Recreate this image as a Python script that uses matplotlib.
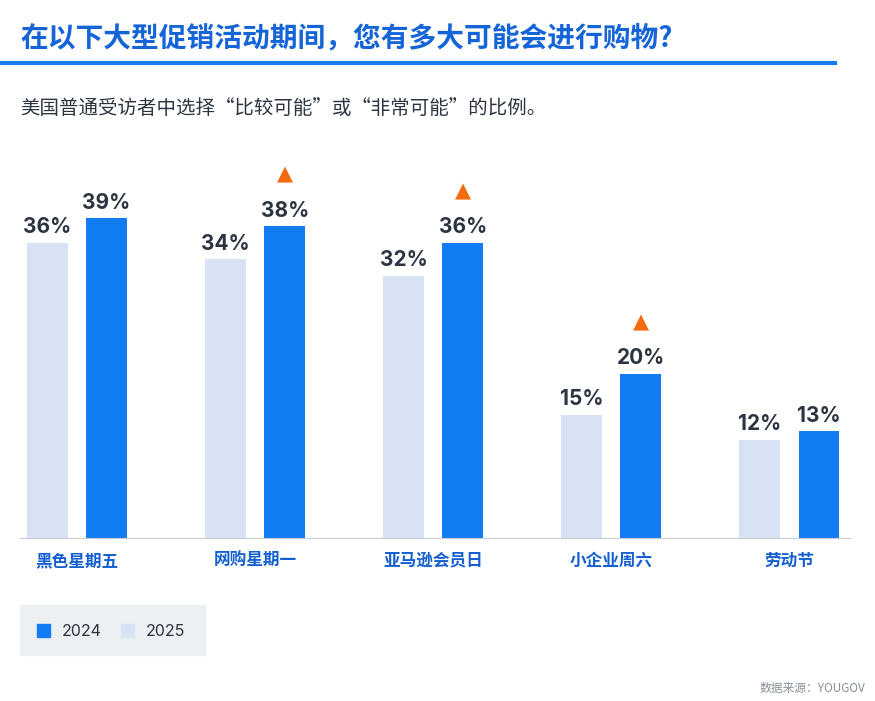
import matplotlib.pyplot as plt
import numpy as np
from matplotlib.patches import Rectangle

plt.rcParams['font.family'] = ['Noto Sans CJK SC', 'DejaVu Sans']

categories = ['黑色星期五', '网购星期一', '亚马逊会员日', '小企业周六', '劳动节']
v2025 = [36, 34, 32, 15, 12]
v2024 = [39, 38, 36, 20, 13]
rising = [False, True, True, True, False]

dark = '#127cf2'
light = '#d7e3f4'
orange = '#f26b0f'
text_c = '#2b3440'
num_font = ['Inter', 'DejaVu Sans']

fig = plt.figure(figsize=(8.75, 7.01), dpi=100)
ax = fig.add_axes([20/875, 163/701, 830/875, 385.4/701])
x = np.arange(len(categories))
w = 0.23
off = 0.166
ax.bar(x - off, v2025, w, color=light)
ax.bar(x + off, v2024, w, color=dark)
for i in range(len(x)):
    ax.annotate(f'{v2025[i]}%', (x[i] - off, v2025[i]), xytext=(0, 4), textcoords='offset points',
                ha='center', va='bottom', fontsize=15, fontweight='bold', color=text_c, family=num_font)
    ax.annotate(f'{v2024[i]}%', (x[i] + off, v2024[i]), xytext=(0, 4), textcoords='offset points',
                ha='center', va='bottom', fontsize=15, fontweight='bold', color=text_c, family=num_font)
    if rising[i]:
        ax.annotate('▲', (x[i] + off, v2024[i]), xytext=(0, 30), textcoords='offset points',
                    ha='center', va='bottom', fontsize=15, color=orange, family=['DejaVu Sans'])
ax.set_xlim(-0.32, 4.34)
ax.set_ylim(0, 47)
ax.set_xticks(x)
ax.set_xticklabels(categories, fontsize=12, fontweight='bold', color='#1560d0')
ax.tick_params(axis='x', length=0, pad=10)
ax.set_yticks([])
for s in ['top', 'left', 'right']:
    ax.spines[s].set_visible(False)
ax.spines['bottom'].set_color('#c8ccd2')

fig.text(20/875, 1 - 38/701, '在以下大型促销活动期间，您有多大可能会进行购物?', fontsize=20,
         fontweight='bold', color='#1565d8', va='center')
fig.add_artist(plt.Line2D([0, 835/875], [1 - 63/701] * 2, color='#1a7cf0', lw=3))
fig.text(20/875, 1 - 108/701, '美国普通受访者中选择“比较可能”或“非常可能”的比例。', fontsize=14,
         color=text_c, va='center')

fig.add_artist(Rectangle((20/875, 1 - 655/701), 185/875, 50/701, color='#edf0f3',
                         transform=fig.transFigure))
fig.add_artist(Rectangle((37/875, 1 - 637/701), 13/875, 13/701, color=dark, transform=fig.transFigure))
fig.text(62/875, 1 - 631/701, '2024', fontsize=11.5, color=text_c, va='center', family=num_font)
fig.add_artist(Rectangle((121/875, 1 - 637/701), 13/875, 13/701, color=light, transform=fig.transFigure))
fig.text(146/875, 1 - 631/701, '2025', fontsize=11.5, color=text_c, va='center', family=num_font)

fig.text(865/875, 1 - 688/701, '数据来源：YOUGOV', fontsize=8.5, color='#8a9099', ha='right', va='center')

plt.savefig('out.png', dpi=100)
plt.close()
